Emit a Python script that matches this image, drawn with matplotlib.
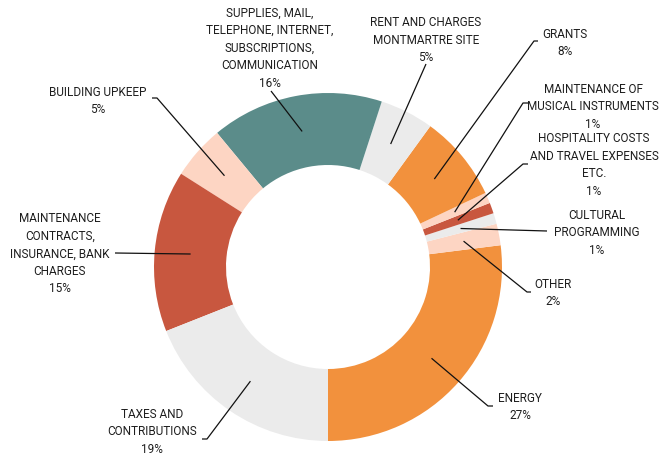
import numpy as np
import matplotlib.pyplot as plt

plt.rcParams['font.family'] = ['Roboto', 'DejaVu Sans']

# slices, counterclockwise from 6 o'clock
labels = [
    "ENERGY",
    "OTHER",
    "CULTURAL\nPROGRAMMING",
    "HOSPITALITY COSTS\nAND TRAVEL EXPENSES\nETC.",
    "MAINTENANCE OF\nMUSICAL INSTRUMENTS",
    "GRANTS",
    "RENT AND CHARGES\nMONTMARTRE SITE",
    "SUPPLIES, MAIL,\nTELEPHONE, INTERNET,\nSUBSCRIPTIONS,\nCOMMUNICATION",
    "BUILDING UPKEEP",
    "MAINTENANCE\nCONTRACTS,\nINSURANCE, BANK\nCHARGES",
    "TAXES AND\nCONTRIBUTIONS",
]
shares = [27, 2, 1, 1, 1, 8, 5, 16, 5, 15, 19]
colors = ["#F2913D", "#FDD5C3", "#EBEBEB", "#C8573F", "#FDD5C3", "#F2913D",
          "#EBEBEB", "#5B8C8A", "#FDD5C3", "#C8573F", "#EBEBEB"]

# label layout in pixel coords (x right, y down): text centre, leader end points
text_pos = [(520, 407), (553, 293), (597, 233), (594, 165), (593, 107), (565, 43),
            (426, 40), (270, 48), (98, 101), (60, 254), (152, 432)]
leader_pts = [
    [(488, 407), (493, 407)],
    [(527, 293), (531, 293)],
    [(547, 232)],
    [(523, 165), (528, 165)],
    [(523, 104), (528, 104)],
    [(534, 42), (538, 42)],
    [(426, 65)],
    [(271, 92)],
    [(157, 99), (152, 99)],
    [(115, 254)],
    [(207, 440), (202, 440)],
]

W, H = 661, 456
cx, cy = 328, 268
r_out, r_in = 174, 102


def flip(p):
    return p[0], H - p[1]


fig = plt.figure(figsize=(W / 100, H / 100), dpi=100)
ax = fig.add_axes([0, 0, 1, 1])

wedges, _ = ax.pie(shares, colors=colors, startangle=270, counterclock=True,
                   center=(cx, H - cy), radius=r_out,
                   wedgeprops=dict(width=r_out - r_in, linewidth=0))

r_mid = (r_out + r_in) / 2
for w, lab, val, tp, pts in zip(wedges, labels, shares, text_pos, leader_pts):
    ang = np.deg2rad((w.theta1 + w.theta2) / 2)
    start = (cx + r_mid * np.cos(ang), H - cy + r_mid * np.sin(ang))
    path = [start] + [flip(p) for p in pts]
    xs, ys = zip(*path)
    ax.plot(xs, ys, color="#111111", lw=0.9, solid_capstyle="butt")
    tx, ty = flip(tp)
    ax.text(tx, ty, f"{lab}\n{val}%", ha="center", va="center", fontsize=8.5,
            color="#1e1e1e", linespacing=1.45)

ax.set_aspect("equal")
ax.set_xlim(0, W)
ax.set_ylim(0, H)
ax.axis("off")

fig.savefig("out.png", dpi=100)
